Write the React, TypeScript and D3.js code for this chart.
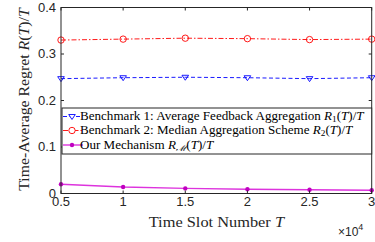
import * as d3 from 'd3';

// x values (units of 10^4 time slots)
const slots = [0.5, 1, 1.5, 2, 2.5, 3];
const bench1 = [0.247, 0.249, 0.250, 0.249, 0.247, 0.249];
const bench2 = [0.330, 0.332, 0.334, 0.333, 0.331, 0.332];
const ours = [0.020, 0.014, 0.011, 0.009, 0.008, 0.007];
const yTicks = [0, 0.1, 0.2, 0.3, 0.4];
const xTicks = [0.5, 1, 1.5, 2, 2.5, 3];

const width = 375;
const height = 242;
const margin = { top: 7.5, right: 3.3, bottom: 48.5, left: 61 };

const tickFont = '"Liberation Sans", Arial, sans-serif';
const mathFont = '"Liberation Serif", "DejaVu Serif", serif';
const axisColor = '#262626';

export default function App() {
    const x = d3.scaleLinear().domain([0.5, 3]).range([margin.left, width - margin.right]);
    const y = d3.scaleLinear().domain([0, 0.4]).range([height - margin.bottom, margin.top]);

    const line = d3.line<[number, number]>()
        .x(d => x(d[0]))
        .y(d => y(d[1]));

    const pts = (vals: number[]) => slots.map((s, i) => [s, vals[i]] as [number, number]);

    const x0 = x.range()[0], x1 = x.range()[1];
    const y0 = y.range()[0], y1 = y.range()[1];

    const tri = (cx: number, cy: number, s = 3.3) =>
        `M${cx - s},${cy - s * 0.6}L${cx + s},${cy - s * 0.6}L${cx},${cy + s * 0.9}Z`;

    // legend layout; text is stretched a bit to mimic the wide LaTeX serif
    const legendTop = 108;
    const legendBottom = 154;
    const rows = [116.5, 130.5, 145];
    const legendSize = 12;
    const stretch = 1.09;

    return (
        <svg width={width} height={height} style={{ position: 'absolute', left: 0, top: 0 }}>
            <rect x={0} y={0} width={width} height={height} fill="#fff" />

            {/* series */}
            <path d={line(pts(bench2)) ?? ''} fill="none" stroke="#ff0000" strokeWidth={0.9} strokeDasharray="5,2,1.5,2" />
            {pts(bench2).map((d, i) => (
                <circle key={i} cx={x(d[0])} cy={y(d[1])} r={3.2} fill="none" stroke="#ff0000" strokeWidth={0.9} />
            ))}

            <path d={line(pts(bench1)) ?? ''} fill="none" stroke="#0000ff" strokeWidth={0.9} strokeDasharray="4,2.5" />
            {pts(bench1).map((d, i) => (
                <path key={i} d={tri(x(d[0]), y(d[1]))} fill="none" stroke="#0000ff" strokeWidth={0.9} />
            ))}

            <path d={line(pts(ours)) ?? ''} fill="none" stroke="#dd33dd" strokeWidth={1.4} />
            {pts(ours).map((d, i) => (
                <circle key={i} cx={x(d[0])} cy={y(d[1])} r={2.2} fill="#c000c0" />
            ))}

            {/* frame */}
            <rect x={x0} y={y1} width={x1 - x0} height={y0 - y1} fill="none" stroke={axisColor} strokeWidth={1} />

            {/* y ticks */}
            {yTicks.map(t => (
                <g key={t}>
                    <line x1={x0} x2={x0 + 3} y1={y(t)} y2={y(t)} stroke={axisColor} />
                    <line x1={x1} x2={x1 - 3} y1={y(t)} y2={y(t)} stroke={axisColor} />
                    <text x={x0 - 5} y={y(t)} dy="0.34em" textAnchor="end" fontFamily={tickFont} fontSize={13} fill={axisColor}>
                        {t === 0 ? '0' : t.toFixed(1)}
                    </text>
                </g>
            ))}

            {/* x ticks */}
            {xTicks.map(t => (
                <g key={t}>
                    <line x1={x(t)} x2={x(t)} y1={y0} y2={y0 - 3} stroke={axisColor} />
                    <line x1={x(t)} x2={x(t)} y1={y1} y2={y1 + 3} stroke={axisColor} />
                    <text x={x(t)} y={y0 + 12} textAnchor="middle" fontFamily={tickFont} fontSize={13} fill={axisColor}>
                        {String(t)}
                    </text>
                </g>
            ))}

            {/* exponent */}
            <text x={338} y={236} fontFamily={tickFont} fontSize={12} fill={axisColor}>
                ×10<tspan dy={-6} fontSize={9}>4</tspan>
            </text>

            {/* axis labels */}
            <text transform={`translate(${(x0 + x1) / 2},227) scale(1.17,1)`} textAnchor="middle" fontFamily={mathFont} fontSize={14} fill={axisColor}>
                Time Slot Number <tspan fontStyle="italic">T</tspan>
            </text>
            <text transform={`translate(29,${(y0 + y1) / 2 - 1}) rotate(-90) scale(1.13,1)`} textAnchor="middle" fontFamily={mathFont} fontSize={14} fill={axisColor}>
                Time-Average Regret <tspan fontStyle="italic">R</tspan>(<tspan fontStyle="italic">T</tspan>)/<tspan fontStyle="italic">T</tspan>
            </text>

            {/* legend */}
            <rect x={x0 + 1} y={legendTop} width={x1 - x0 - 1} height={legendBottom - legendTop} fill="#fff" stroke={axisColor} strokeWidth={1} />

            <line x1={63} x2={83} y1={rows[0]} y2={rows[0]} stroke="#0000ff" strokeWidth={0.9} strokeDasharray="4,2.5" />
            <path d={tri(72, rows[0])} fill="#fff" stroke="#0000ff" strokeWidth={0.9} />
            <text transform={`translate(80,${rows[0]}) scale(${stretch},1)`} dy="0.32em" fontFamily={mathFont} fontSize={legendSize} fill="#000">
                Benchmark 1: Average Feedback Aggregation <tspan fontStyle="italic">R</tspan><tspan fontSize={8.5} dy={2}>1</tspan><tspan dy={-2}>(</tspan><tspan fontStyle="italic">T</tspan>)/<tspan fontStyle="italic">T</tspan>
            </text>

            <line x1={63} x2={83} y1={rows[1]} y2={rows[1]} stroke="#ff0000" strokeWidth={0.9} strokeDasharray="5,2,1.5,2" />
            <circle cx={72} cy={rows[1]} r={3.2} fill="#fff" stroke="#ff0000" strokeWidth={0.9} />
            <text transform={`translate(80,${rows[1]}) scale(${stretch},1)`} dy="0.32em" fontFamily={mathFont} fontSize={legendSize} fill="#000">
                Benchmark 2: Median Aggregation Scheme <tspan fontStyle="italic">R</tspan><tspan fontSize={8.5} dy={2}>2</tspan><tspan dy={-2}>(</tspan><tspan fontStyle="italic">T</tspan>)/<tspan fontStyle="italic">T</tspan>
            </text>

            <line x1={63} x2={83} y1={rows[2]} y2={rows[2]} stroke="#dd33dd" strokeWidth={1.4} />
            <circle cx={72} cy={rows[2]} r={2.2} fill="#c000c0" />
            <text transform={`translate(80,${rows[2]}) scale(${stretch},1)`} dy="0.32em" fontFamily={mathFont} fontSize={legendSize} fill="#000">
                Our Mechanism <tspan fontStyle="italic">R</tspan><tspan fontSize={8.5} dy={2} fontStyle="italic">ℳ</tspan><tspan dy={-2}>(</tspan><tspan fontStyle="italic">T</tspan>)/<tspan fontStyle="italic">T</tspan>
            </text>
        </svg>
    );
}
